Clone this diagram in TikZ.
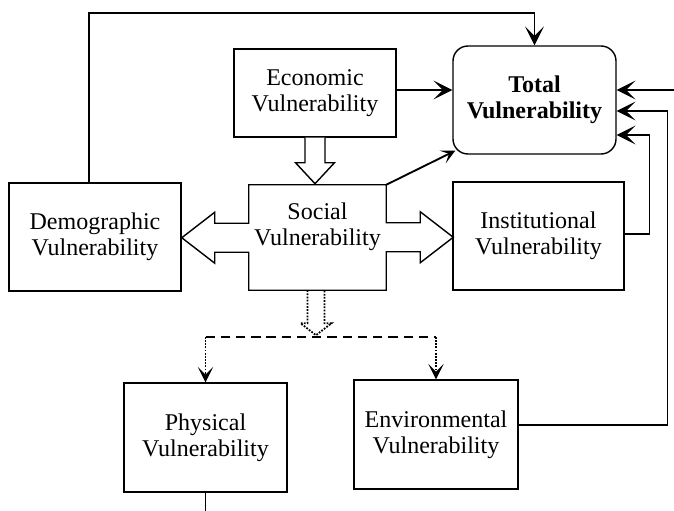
\documentclass[tikz,border=0pt]{standalone}
\usepackage{fontspec}
\setmainfont{Liberation Serif}
\usetikzlibrary{arrows.meta,calc}

\begin{document}
\begin{tikzpicture}[x=0.03cm, y=-0.03cm,
    every node/.style={align=center, inner sep=0pt, font=\fontsize{20.5}{22}\selectfont},
    box/.style={draw, line width=1.2pt},
    arr/.style={line width=1.2pt, -{Stealth[length=16pt, width=16pt, inset=8pt]}},
    dotline/.style={line width=1.5pt, dash pattern=on 1.5pt off 1.2pt},
    dotarr/.style={dotline, -{Stealth[length=13pt, width=13pt, inset=6.5pt]}}]
    \useasboundingbox (0,0) rectangle (674,511);

    \node[box, minimum width=5.16cm, minimum height=3.24cm] (demo) at (95,237) {Demographic\\Vulnerability};
    \node[box, minimum width=4.86cm, minimum height=2.64cm] (econ) at (315,93) {Economic\\Vulnerability};
    \node[box, rounded corners=0.45cm, minimum width=4.89cm, minimum height=3.24cm] (total) at (534.5,100) {\bfseries Total\\\bfseries Vulnerability};
    \node[minimum width=4.11cm, minimum height=3.15cm] (social) at (317.5,237.5) {};
    \node (socialtext) at ([shift={(0,-11)}]social.center) {Social\\Vulnerability};
    \node[box, minimum width=5.13cm, minimum height=3.24cm] (inst) at (538.5,236) {Institutional\\Vulnerability};
    \node[box, minimum width=4.89cm, minimum height=3.27cm] (phys) at (205.5,437.5) {Physical\\Vulnerability};
    \node[box, minimum width=4.92cm, minimum height=3.27cm] (env) at (436,434.5) {Environmental\\Vulnerability};

    % social box with its two wide side arrows
    \draw[line width=1.2pt] (social.north west) -- (social.north east)
        -- ++(0,38) -- ++(34,0) -- ++(0,-11) -- ++(33,25.5) -- ++(-33,25.5) -- ++(0,-11) -- ++(-34,0)
        -- (social.south east) -- (social.south west)
        -- ++(0,-38) -- ++(-34,0) -- ++(0,11) -- ++(-33,-25.5) -- ++(33,-25.5) -- ++(0,11) -- ++(34,0)
        -- cycle;
    % wide arrow economic -> social
    \draw[line width=1.2pt, fill=white] ([shift={(-10,0)}]econ.south) -- ++(0,25) -- ++(-9.5,0)
        -- ++(19.5,21) -- ++(19.5,-21) -- ++(-9.5,0) -- ++(0,-25);
    % wide dotted arrow below social
    \draw[dotline] ([shift={(-10,0)}]social.south) -- ++(0,33) -- ++(-7,0)
        -- ++(15.5,12) -- ++(15.5,-12) -- ++(-7,0) -- ++(0,-33);

    \coordinate (bar) at (316,337);
    \draw[line width=2.2pt, dash pattern=on 8pt off 5pt] (phys.north |- bar) -- (env.north |- bar);
    \draw[dotarr] (phys.north |- bar) -- (phys.north);
    \draw[dotarr] (env.north |- bar) -- (env.north);

    \draw[arr] ([shift={(-6,0)}]demo.north) |- (total.north |- 0,13) -- (total.north);
    \draw[arr] ([shift={(0,-3)}]econ.east) -- ([shift={(0,-3)}]econ.east -| total.west);
    \draw[line width=1.6pt, -{Stealth[length=12pt, width=12pt, inset=6pt]}] (social.north east) -- ([shift={(3,-4)}]total.south west);
    \draw[arr] ([shift={(0,-2)}]inst.east) -- ++(25,0) |- ($(total.east)+(0,35)$);
    \draw[arr] ([shift={(0,-9.5)}]env.east) -- ++(149,0) |- ($(total.east)+(0,11)$);
    \coordinate (outer) at (674,90);
    \draw[arr] (outer) -- (total.east |- outer);
    \coordinate (physend) at (205.5,511);
    \draw[line width=1.2pt] (phys.south) -- (physend);
\end{tikzpicture}
\end{document}
